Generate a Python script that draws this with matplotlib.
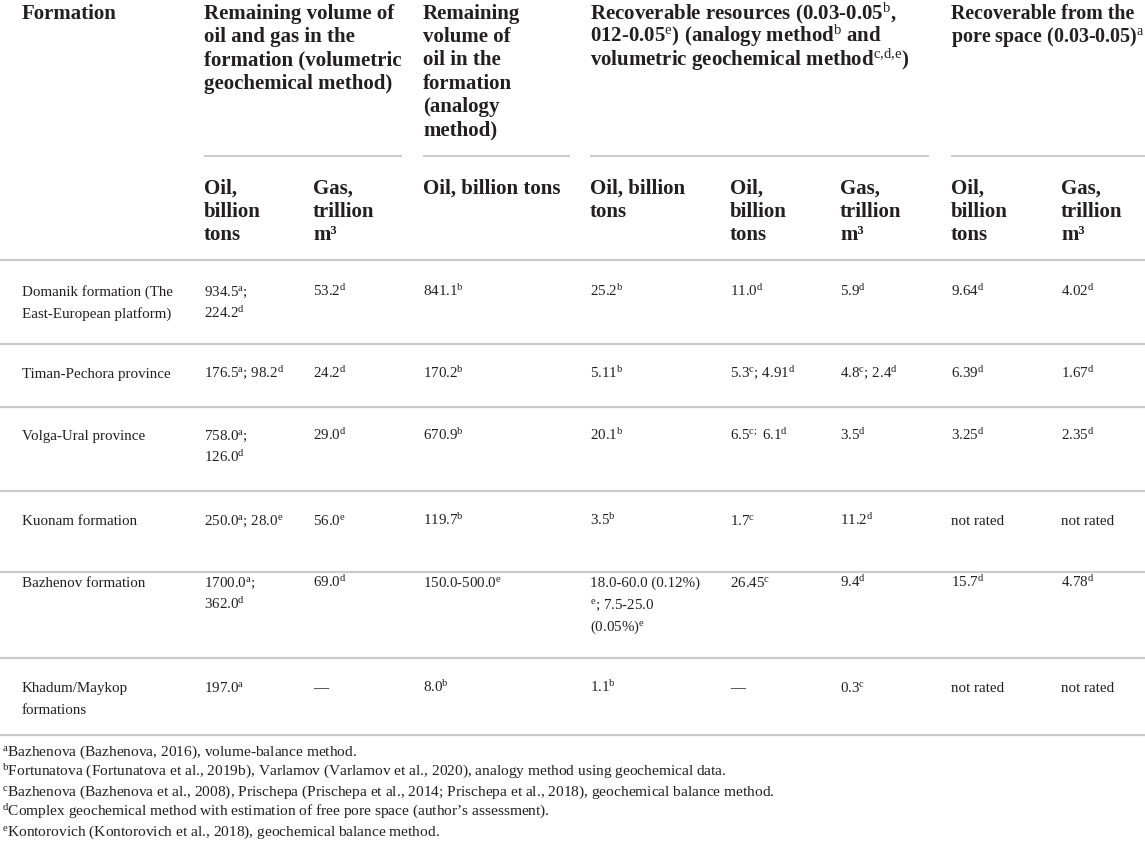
import matplotlib
matplotlib.use("Agg")
import matplotlib.pyplot as plt

plt.rcParams['font.family'] = ['Liberation Serif', 'DejaVu Serif']
plt.rcParams['mathtext.fontset'] = 'custom'
plt.rcParams['mathtext.rm'] = 'Liberation Serif'
plt.rcParams['mathtext.it'] = 'Liberation Serif:italic'
plt.rcParams['mathtext.bf'] = 'Liberation Serif:bold'

def s(t):
    return r'$^{\mathrm{' + t + '}}$'

# ---------------- data ----------------
group_headers = [
    "Formation",
    "Remaining volume of\noil and gas in the\nformation (volumetric\ngeochemical method)",
    "Remaining\nvolume of\noil in the\nformation\n(analogy\nmethod)",
    "Recoverable resources (0.03-0.05" + s("b") + ",\n012-0.05" + s("e") + ") (analogy method" + s("b") + " and\nvolumetric geochemical method" + s("c{,}d{,}e") + ")",
    "Recoverable from the\npore space (0.03-0.05)" + s("a"),
]
sub_headers = [
    "Oil,\nbillion\ntons", "Gas,\ntrillion\nm³", "Oil, billion tons",
    "Oil, billion\ntons", "Oil,\nbillion\ntons", "Gas,\ntrillion\nm³",
    "Oil,\nbillion\ntons", "Gas,\ntrillion\nm³",
]
formations = [
    "Domanik formation (The\nEast-European platform)",
    "Timan-Pechora province",
    "Volga-Ural province",
    "Kuonam formation",
    "Bazhenov formation",
    "Khadum/Maykop\nformations",
]
vol_oil = ["934.5" + s("a") + ";\n224.2" + s("d"), "176.5" + s("a") + "; 98.2" + s("d"),
           "758.0" + s("a") + ";\n126.0" + s("d"), "250.0" + s("a") + "; 28.0" + s("e"),
           "1700.0" + s("a") + ";\n362.0" + s("d"), "197.0" + s("a")]
vol_gas = ["53.2" + s("d"), "24.2" + s("d"), "29.0" + s("d"), "56.0" + s("e"), "69.0" + s("d"), "—"]
analogy_oil = ["841.1" + s("b"), "170.2" + s("b"), "670.9" + s("b"), "119.7" + s("b"),
               "150.0-500.0" + s("e"), "8.0" + s("b")]
rec_oil_b = ["25.2" + s("b"), "5.11" + s("b"), "20.1" + s("b"), "3.5" + s("b"),
             "18.0-60.0 (0.12%)\n" + s("e") + "; 7.5-25.0\n(0.05%)" + s("e"), "1.1" + s("b")]
rec_oil_cd = ["11.0" + s("d"), "5.3" + s("c") + "; 4.91" + s("d"), "6.5" + s("c;") + " 6.1" + s("d"),
              "1.7" + s("c"), "26.45" + s("c"), "—"]
rec_gas = ["5.9" + s("d"), "4.8" + s("c") + "; 2.4" + s("d"), "3.5" + s("d"), "11.2" + s("d"),
           "9.4" + s("d"), "0.3" + s("c")]
pore_oil = ["9.64" + s("d"), "6.39" + s("d"), "3.25" + s("d"), "not rated", "15.7" + s("d"), "not rated"]
pore_gas = ["4.02" + s("d"), "1.67" + s("d"), "2.35" + s("d"), "not rated", "4.78" + s("d"), "not rated"]
footnotes = [
    s("a") + "Bazhenova (Bazhenova, 2016), volume-balance method.",
    s("b") + "Fortunatova (Fortunatova et al., 2019b), Varlamov (Varlamov et al., 2020), analogy method using geochemical data.",
    s("c") + "Bazhenova (Bazhenova et al., 2008), Prischepa (Prischepa et al., 2014; Prischepa et al., 2018), geochemical balance method.",
    s("d") + "Complex geochemical method with estimation of free pore space (author’s assessment).",
    s("e") + "Kontorovich (Kontorovich et al., 2018), geochemical balance method.",
]

# ---------------- layout ----------------
W, H = 1145, 845
fig = plt.figure(figsize=(W / 100, H / 100), dpi=100)
ax = fig.add_axes([0, 0, 1, 1])
ax.set_xlim(0, W)
ax.set_ylim(H, 0)
ax.axis('off')

TXT = '#231f20'
LINE = '#cbcbcb'
HFS, BFS, FFS = 15.0, 10.8, 11.1   # pt
px = 100 / 72.0

def put(x, y, text, fs, dy, weight='normal'):
    for i, ln in enumerate(text.split('\n')):
        ax.text(x, y + i * dy + 0.33 * fs * px, ln, fontsize=fs, fontweight=weight,
                color=TXT, va='baseline', ha='left')

col_x = [22, 204, 313, 423, 590, 730, 840, 951, 1061]
group_x = [22, 204, 423, 590, 951]
group_fs = [HFS, HFS, HFS, HFS, 14.4]
HDY, BDY, FDY = 23.3, 21.7, 20.0

for gx, gh, gfs in zip(group_x, group_headers, group_fs):
    put(gx, 12, gh, gfs, HDY, 'bold')

for (x0, x1) in [(204, 402), (423, 570), (590, 929), (951, 1145)]:
    ax.plot([x0, x1], [157, 157], color=LINE, lw=1.4, solid_capstyle='butt')

for x, sh in zip(col_x[1:], sub_headers):
    put(x, 187, sh, HFS, HDY, 'bold')

ax.plot([0, W], [261, 261], color=LINE, lw=1.6, solid_capstyle='butt')

columns = [formations, vol_oil, vol_gas, analogy_oil, rec_oil_b, rec_oil_cd, rec_gas, pore_oil, pore_gas]
row_text_y = [291, 373, 435, 520, 582, 687]
row_lines = [345, 408, 492, 573, 659, 736]

for r, ty in enumerate(row_text_y):
    for x, col in zip(col_x, columns):
        put(x, ty, col[r], BFS, BDY)
for ly in row_lines:
    ax.plot([0, W], [ly, ly], color=LINE, lw=1.6, solid_capstyle='butt')

for i, fn in enumerate(footnotes):
    put(2, 751 + i * FDY, fn, FFS, FDY)

fig.savefig('out.png', dpi=100, facecolor='white')
